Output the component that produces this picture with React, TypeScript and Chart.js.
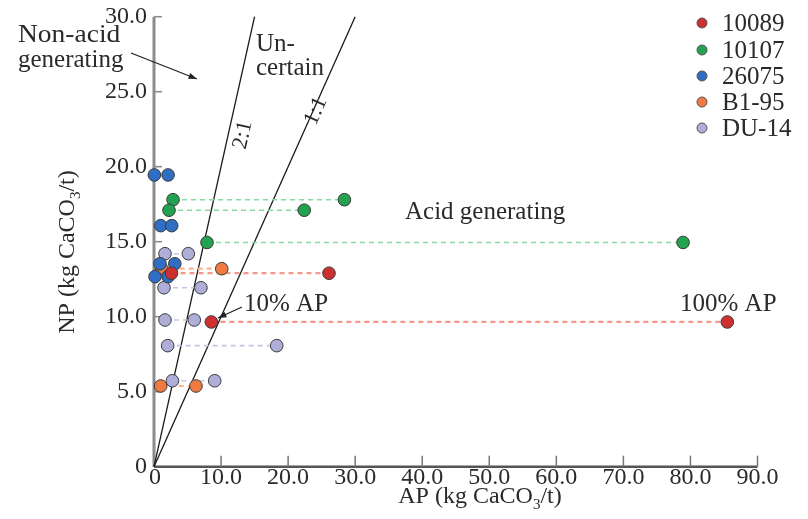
import React, { useEffect, useRef } from "react";
import { Chart, registerables } from "chart.js";

Chart.register(...registerables);

// ---- data ----
const seriesNames = ["10089", "10107", "26075", "B1-95", "DU-14"];

// points listed in pairs: [10% AP point, 100% AP point]
const ap10089 = [2.61, 26.1, 8.55, 85.5];
const np10089 = [12.9, 12.9, 9.65, 9.65];

const ap10107 = [2.84, 28.4, 2.24, 22.4, 7.9, 78.9];
const np10107 = [17.8, 17.8, 17.1, 17.1, 14.95, 14.95];

const ap26075 = [0.05, 2.1, 1.0, 2.64, 0.9, 3.1, 0.15, 2.1];
const np26075 = [19.45, 19.45, 16.07, 16.07, 13.53, 13.53, 12.67, 12.67];

const apB195 = [1.15, 10.1, 1.0, 6.26];
const npB195 = [13.2, 13.2, 5.38, 5.38];

const apDU14 = [1.64, 5.12, 1.49, 7.0, 1.64, 6.0, 2.04, 18.3, 2.74, 9.05];
const npDU14 = [14.2, 14.2, 11.93, 11.93, 9.78, 9.78, 8.07, 8.07, 5.73, 5.73];

const ratio21AP = [0, 15];
const ratio21NP = [0, 30];
const ratio11AP = [0, 30];
const ratio11NP = [0, 30];

const xTicks = [0, 10, 20, 30, 40, 50, 60, 70, 80, 90];
const xTickLabels = ["0", "10.0", "20.0", "30.0", "40.0", "50.0", "60.0", "70.0", "80.0", "90.0"];
const yTicks = [0, 5, 10, 15, 20, 25, 30];
const yTickLabels = ["0", "5.0", "10.0", "15.0", "20.0", "25.0", "30.0"];

// ---- styles ----
const fills = ["#cc3130", "#23a24f", "#2f6ec2", "#f07a42", "#aeaed8"];
const lineColors = ["#f2998a", "#86d8a4", "#8fb0e0", "#f8b393", "#c4c4ea"];
const connect = [true, true, false, true, true];
const FONT = '"Liberation Serif", "Times New Roman", serif';
const TEXT = "#2a2a2a";

function drawArrow(ctx: CanvasRenderingContext2D, x1: number, y1: number, x2: number, y2: number) {
  ctx.save();
  ctx.strokeStyle = "#222";
  ctx.fillStyle = "#222";
  ctx.lineWidth = 1.3;
  ctx.beginPath();
  ctx.moveTo(x1, y1);
  ctx.lineTo(x2, y2);
  ctx.stroke();
  const a = Math.atan2(y2 - y1, x2 - x1);
  const L = 9;
  ctx.beginPath();
  ctx.moveTo(x2, y2);
  ctx.lineTo(x2 - L * Math.cos(a - 0.35), y2 - L * Math.sin(a - 0.35));
  ctx.lineTo(x2 - L * Math.cos(a + 0.35), y2 - L * Math.sin(a + 0.35));
  ctx.closePath();
  ctx.fill();
  ctx.restore();
}

export default function App() {
  const ref = useRef<HTMLCanvasElement | null>(null);

  useEffect(() => {
    document.body.style.margin = "0";
    const canvas = ref.current;
    if (!canvas) return;

    const xs = [ap10089, ap10107, ap26075, apB195, apDU14];
    const ys = [np10089, np10107, np26075, npB195, npDU14];

    const datasets: any[] = [];
    xs.forEach((arr, s) => {
      datasets.push({
        label: seriesNames[s],
        data: arr.map((x, i) => ({ x, y: ys[s][i] })),
        showLine: false,
        pointRadius: 6.3,
        pointHoverRadius: 6.3,
        pointBackgroundColor: fills[s],
        pointBorderColor: "#3a3a3a",
        pointBorderWidth: 1,
        clip: false,
        order: s,
      });
    });
    xs.forEach((arr, s) => {
      if (!connect[s]) return;
      for (let i = 0; i + 1 < arr.length; i += 2) {
        datasets.push({
          label: "_pair",
          data: [
            { x: arr[i], y: ys[s][i] },
            { x: arr[i + 1], y: ys[s][i + 1] },
          ],
          showLine: true,
          borderColor: lineColors[s],
          borderWidth: s === 0 || s === 3 ? 2.2 : 1.6,
          borderDash: [5, 4],
          pointRadius: 0,
          clip: false,
          order: 10,
        });
      }
    });
    datasets.push({
      label: "_r21",
      data: ratio21AP.map((x, i) => ({ x, y: ratio21NP[i] })),
      showLine: true,
      borderColor: "#1a1a1a",
      borderWidth: 1.3,
      pointRadius: 0,
      clip: false,
      order: 20,
    });
    datasets.push({
      label: "_r11",
      data: ratio11AP.map((x, i) => ({ x, y: ratio11NP[i] })),
      showLine: true,
      borderColor: "#1a1a1a",
      borderWidth: 1.3,
      pointRadius: 0,
      clip: false,
      order: 20,
    });

    const axesPlugin = {
      id: "axesPlugin",
      beforeDatasetsDraw(chart: any) {
        const { ctx, chartArea, scales } = chart;
        const { left, right, top, bottom } = chartArea;
        const xS = scales.x;
        const yS = scales.y;
        ctx.save();
        ctx.strokeStyle = "#8c8c8c";
        ctx.lineWidth = 3;
        ctx.beginPath();
        ctx.moveTo(left, top);
        ctx.lineTo(left, bottom);
        ctx.stroke();
        ctx.lineWidth = 1.6;
        yTicks.forEach((v) => {
          if (v === 0) return;
          const py = yS.getPixelForValue(v);
          ctx.beginPath();
          ctx.moveTo(left, py);
          ctx.lineTo(left + 8, py);
          ctx.stroke();
        });
        ctx.strokeStyle = "#555";
        ctx.lineWidth = 2.4;
        ctx.beginPath();
        ctx.moveTo(left, bottom);
        ctx.lineTo(right, bottom);
        ctx.stroke();
        ctx.strokeStyle = "#777";
        ctx.lineWidth = 1.5;
        xTicks.forEach((v) => {
          if (v === 0) return;
          const px = xS.getPixelForValue(v);
          ctx.beginPath();
          ctx.moveTo(px, bottom);
          ctx.lineTo(px, bottom - 11);
          ctx.stroke();
        });
        ctx.restore();
      },
      afterDraw(chart: any) {
        const { ctx, chartArea, scales } = chart;
        const { left, bottom } = chartArea;
        const xS = scales.x;
        const yS = scales.y;
        ctx.save();
        ctx.fillStyle = TEXT;
        ctx.font = "24px " + FONT;
        ctx.textBaseline = "middle";
        ctx.textAlign = "right";
        yTicks.forEach((v, i) => {
          ctx.fillText(yTickLabels[i], left - 7, yS.getPixelForValue(v));
        });
        ctx.textAlign = "center";
        xTicks.forEach((v, i) => {
          ctx.fillText(xTickLabels[i], xS.getPixelForValue(v) + (i === 0 ? 1 : 0), bottom + 11);
        });

        const drawTitle = (prefix: string, cx: number, cy: number, rot: number) => {
          ctx.save();
          ctx.translate(cx, cy);
          ctx.rotate(rot);
          ctx.textAlign = "left";
          ctx.textBaseline = "middle";
          ctx.font = "24px " + FONT;
          const p1 = prefix + " (kg CaCO";
          const p3 = "/t)";
          const w1 = ctx.measureText(p1).width;
          const w3 = ctx.measureText(p3).width;
          ctx.font = "15px " + FONT;
          const w2 = ctx.measureText("3").width;
          const total = w1 + w2 + w3;
          const x0 = -total / 2;
          ctx.font = "24px " + FONT;
          ctx.fillText(p1, x0, 0);
          ctx.font = "15px " + FONT;
          ctx.fillText("3", x0 + w1, 8);
          ctx.font = "24px " + FONT;
          ctx.fillText(p3, x0 + w1 + w2, 0);
          ctx.restore();
        };
        drawTitle("AP", 480, 497, 0);
        drawTitle("NP", 68, 252, -Math.PI / 2);

        ctx.fillStyle = TEXT;
        ctx.font = "25px " + FONT;
        ctx.textAlign = "left";
        ctx.textBaseline = "middle";
        ctx.save();
        ctx.translate(18, 0);
        ctx.scale(1.1, 1);
        ctx.fillText("Non-acid", 0, 35);
        ctx.restore();
        ctx.fillText("generating", 18, 60);
        ctx.fillText("Un-", 256, 44);
        ctx.fillText("certain", 256, 68);
        ctx.fillText("Acid generating", 405, 212);
        ctx.fillText("10% AP", 244, 304);
        ctx.fillText("100% AP", 680, 304);
        drawArrow(ctx, 131, 53, 197, 79);
        drawArrow(ctx, 242, 307, 218, 318);

        const rotLabel = (t: string, cx: number, cy: number, ang: number) => {
          ctx.save();
          ctx.translate(cx, cy);
          ctx.rotate(ang);
          ctx.textAlign = "center";
          ctx.textBaseline = "middle";
          ctx.font = "22px " + FONT;
          ctx.fillStyle = TEXT;
          ctx.fillText(t, 0, 0);
          ctx.restore();
        };
        const x0 = xS.getPixelForValue(0), y0 = yS.getPixelForValue(0);
        const a21 = Math.atan2(yS.getPixelForValue(30) - y0, xS.getPixelForValue(15) - x0);
        const a11 = Math.atan2(yS.getPixelForValue(30) - y0, xS.getPixelForValue(30) - x0);
        rotLabel("2:1", 243, 135, a21);
        rotLabel("1:1", 316, 111, a11);

        const ly = [23, 50, 76, 102, 128];
        seriesNames.forEach((n, i) => {
          ctx.beginPath();
          ctx.arc(702, ly[i], 5, 0, Math.PI * 2);
          ctx.fillStyle = fills[i];
          ctx.fill();
          ctx.lineWidth = 1;
          ctx.strokeStyle = "#555";
          ctx.stroke();
          ctx.fillStyle = TEXT;
          ctx.font = "25px " + FONT;
          ctx.textAlign = "left";
          ctx.textBaseline = "middle";
          ctx.fillText(n, 722, ly[i] + 1);
        });
        ctx.restore();
      },
    };

    const chart = new Chart(canvas, {
      type: "scatter",
      data: { datasets },
      options: {
        animation: false,
        responsive: false,
        devicePixelRatio: 1,
        layout: { padding: { left: 154, right: 50.5, top: 16.7, bottom: 52.3 } },
        plugins: { legend: { display: false }, tooltip: { enabled: false } },
        scales: {
          x: { type: "linear", min: 0, max: 90, display: false },
          y: { type: "linear", min: 0, max: 30, display: false },
        },
      },
      plugins: [axesPlugin],
    });
    return () => chart.destroy();
  }, []);

  return <canvas ref={ref} width={808} height={519} style={{ display: "block" }} />;
}
